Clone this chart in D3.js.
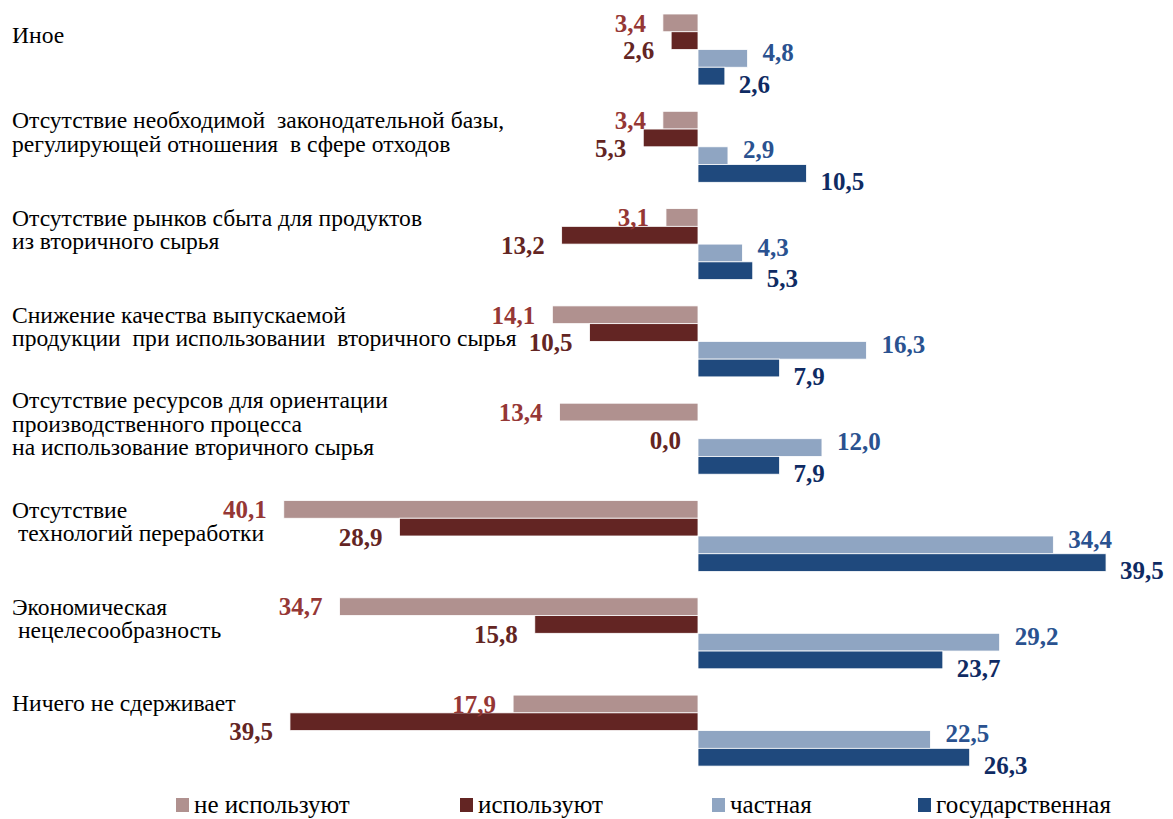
<!DOCTYPE html>
<html>
<head>
<meta charset="utf-8">
<script src="https://cdn.jsdelivr.net/npm/d3@7/dist/d3.min.js"></script>
<style>
  body { margin: 0; background: #fff; }
  svg { display: block; }
</style>
</head>
<body>
<svg id="chart" width="1173" height="819"></svg>
<script>
// categories (multi-line labels)
const categories = [
    ["Иное"],
    ["Отсутствие необходимой  законодательной базы,", "регулирующей отношения  в сфере отходов"],
    ["Отсутствие рынков сбыта для продуктов", "из вторичного сырья"],
    ["Снижение качества выпускаемой", "продукции  при использовании  вторичного сырья"],
    ["Отсутствие ресурсов для ориентации", "производственного процесса", "на использование вторичного сырья"],
    ["Отсутствие", " технологий переработки"],
    ["Экономическая", " нецелесообразность"],
    ["Ничего не сдерживает"]
]

const seriesNames = ["не используют", "используют", "частная", "государственная"]

const notUsing = [3.4, 3.4, 3.1, 14.1, 13.4, 40.1, 34.7, 17.9]
const using = [2.6, 5.3, 13.2, 10.5, 0.0, 28.9, 15.8, 39.5]
const privateOwn = [4.8, 2.9, 4.3, 16.3, 12.0, 34.4, 29.2, 22.5]
const stateOwn = [2.6, 10.5, 5.3, 7.9, 7.9, 39.5, 23.7, 26.3]

// left-side series point to the left
const seriesValues = [notUsing, using, privateOwn, stateOwn]
const seriesSide = [-1, -1, 1, 1]
const barColors = ["#b0918f", "#632523", "#8fa5c2", "#1f497d"]
const labelColors = ["#953735", "#632523", "#2a5290", "#0f2b63"]
const labelShift = [0, 10, -6, 8]
const labelGap = [17, 17, 15, 14]

const serif = '"Liberation Serif", "Times New Roman", serif'

const svg = d3.select("#chart")

const x = d3.scaleLinear()
    .domain([-45, 45])
    .range([698 - 45 * 10.33, 698 + 45 * 10.33])

const y = d3.scaleBand()
    .domain(d3.range(categories.length))
    .range([14, 14 + 7 * 97.3 + 71])
    .paddingInner(26.3 / 97.3)
    .paddingOuter(0)

const ySub = d3.scaleBand()
    .domain(d3.range(seriesNames.length))
    .range([0, y.bandwidth()])

const fmt = v => d3.format(".1f")(v).replace(".", ",")

// flatten to bar records
const bars = []
categories.forEach((c, i) => {
    seriesValues.forEach((vals, s) => {
        bars.push({cat: i, s: s, v: vals[i], signed: seriesSide[s] * vals[i]})
    })
})

const groups = svg.append("g")

groups.selectAll("rect.bar")
    .data(bars.filter(d => d.v > 0))
    .enter()
    .append("rect")
    .attr("class", "bar")
    .attr("x", d => Math.min(x(0), x(d.signed)))
    .attr("y", d => y(d.cat) + ySub(d.s))
    .attr("width", d => Math.abs(x(d.signed) - x(0)))
    .attr("height", ySub.bandwidth())
    .attr("fill", d => barColors[d.s])
    .attr("stroke", "#fff")
    .attr("stroke-width", 0.8)

// value labels
const valLabels = groups.selectAll("text.val")
    .data(bars)
    .enter()
    .append("text")
    .attr("class", "val")
    .attr("x", d => x(d.signed) + seriesSide[d.s] * labelGap[d.s])
    .attr("y", d => y(d.cat) + ySub(d.s) + ySub.bandwidth() / 2 + labelShift[d.s])
    .attr("dy", "0.35em")
    .attr("text-anchor", d => seriesSide[d.s] < 0 ? "end" : "start")
    .attr("fill", d => labelColors[d.s])
    .style("font-family", serif)
    .style("font-size", "25px")
    .style("font-weight", "bold")
    .text(d => fmt(d.v))

// category labels, one text per line
const lineH = 23.5
const catG = svg.selectAll("g.cat")
    .data(categories)
    .enter()
    .append("g")
    .attr("class", "cat")

catG.selectAll("text")
    .data((d, i) => d.map((line, k) => ({line: line, k: k, n: d.length, cat: i})))
    .enter()
    .append("text")
    .attr("x", 12)
    .attr("y", d => y(d.cat) + y.bandwidth() / 2 - 15 - (d.n - 1) * lineH / 2 + d.k * lineH)
    .attr("dy", "0.35em")
    .style("font-family", serif)
    .style("font-size", "23.6px")
    .style("white-space", "pre")
    .attr("fill", "#000")
    .text(d => d.line)

// push a category label up when a value label below it runs into it
catG.each(function(d, i) {
    let shift = 0
    d3.select(this).selectAll("text").each(function() {
        const b = this.getBBox()
        const mid = b.y + b.height / 2
        valLabels.filter(v => v.cat === i).each(function() {
            const l = this.getBBox()
            const hit = b.x < l.x + l.width && l.x < b.x + b.width &&
                        l.y > mid && l.y < b.y + b.height
            if (hit) shift = Math.max(shift, b.y + b.height - l.y + 2)
        })
    })
    if (shift) d3.select(this).attr("transform", `translate(0,${-shift})`)
})

// legend
const legendX = [176, 460, 712, 918]
const legend = svg.append("g")
seriesNames.forEach((name, s) => {
    legend.append("rect")
        .attr("x", legendX[s])
        .attr("y", 798)
        .attr("width", 13)
        .attr("height", 14)
        .attr("fill", barColors[s])
    legend.append("text")
        .attr("x", legendX[s] + 18)
        .attr("y", 813)
        .style("font-family", serif)
        .style("font-size", "25px")
        .attr("fill", "#000")
        .text(name)
})
</script>
</body>
</html>
